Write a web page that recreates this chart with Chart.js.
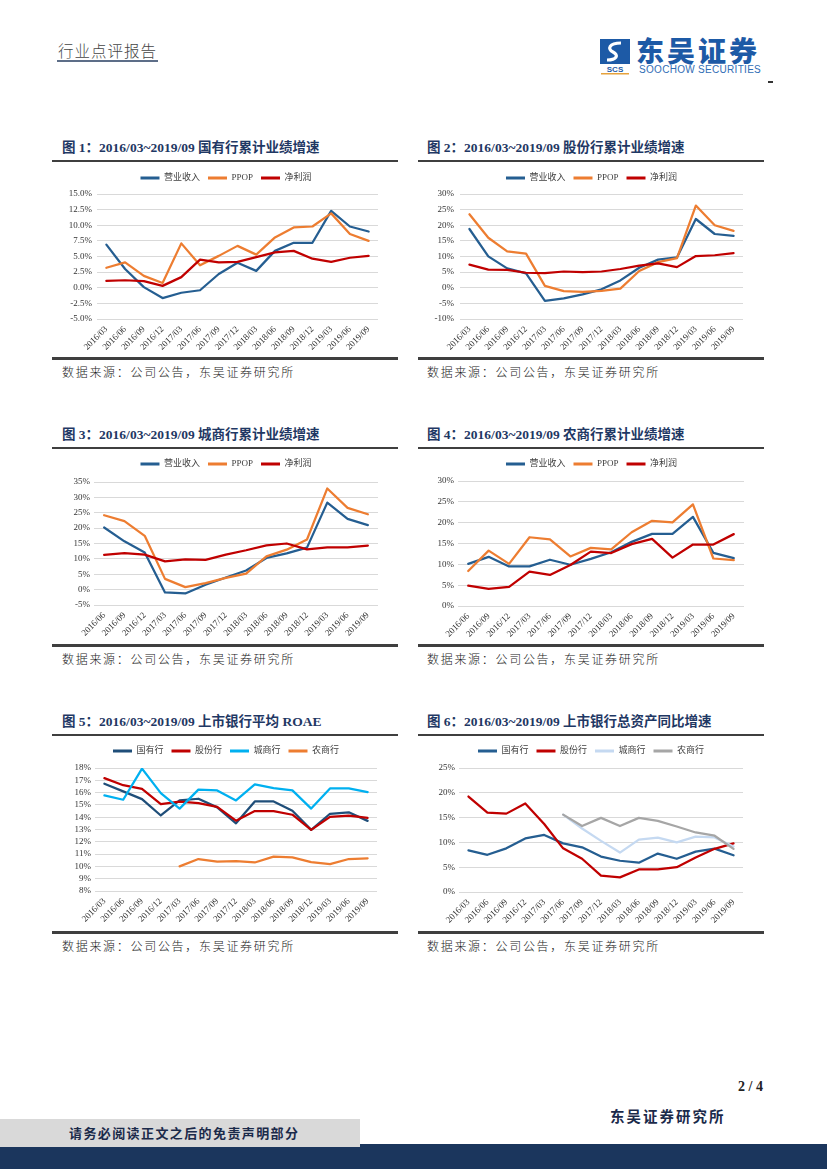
<!DOCTYPE html>
<html><head><meta charset="utf-8">
<script src="https://cdn.jsdelivr.net/npm/chart.js@4.4.1/dist/chart.umd.min.js"></script>
<style>
html,body{margin:0;padding:0;}
body{width:827px;height:1169px;position:relative;background:#fff;overflow:hidden;font-family:"Liberation Serif","Noto Sans CJK SC",serif;}
.abs{position:absolute;}
.title{font-weight:bold;font-size:13.5px;color:#1f3864;white-space:nowrap;line-height:16px;}
.rule{height:2px;background:#3f3f3f;}
.rule2{height:2.5px;background:#3f3f3f;}
.src{font-family:"Noto Sans CJK SC";font-weight:300;font-size:12px;color:#222;letter-spacing:1.7px;white-space:nowrap;line-height:16px;}
canvas{position:absolute;}
</style>
</head>
<body>
<!-- header -->
<div class="abs" style="left:58px;top:40px;font-family:'Noto Sans CJK SC';font-weight:300;font-size:15.5px;color:#444;letter-spacing:1px;line-height:20px;">行业点评报告</div>
<div class="abs" style="left:57px;top:60px;width:101px;height:2px;background:#5d6e88;"></div>
<svg class="abs" style="left:599px;top:39px;" width="32" height="36" viewBox="0 0 32 36">
  <rect x="1" y="0" width="30" height="25" fill="#1d5aa6"/>
  <path d="M22 4 C10 4 8 10 14 13 C20 16 18 21 8 21" stroke="#fff" stroke-width="3.2" fill="none"/>
  <text x="16" y="33" text-anchor="middle" font-family="Liberation Sans" font-weight="bold" font-size="8" fill="#1d5aa6">SCS</text>
  <rect x="2" y="34" width="28" height="1.5" fill="#e6a23c"/>
</svg>
<div class="abs" style="left:636px;top:32px;font-family:'Noto Sans CJK SC';font-weight:900;font-size:28px;color:#1d5aa6;letter-spacing:3px;line-height:36px;">东吴证券</div>
<div class="abs" style="left:639px;top:64px;font-family:'Liberation Sans';font-size:10px;color:#2f6db5;line-height:12px;letter-spacing:0.3px;">SOOCHOW SECURITIES</div>
<div class="abs" style="left:768px;top:81px;width:5px;height:1.5px;background:#333;"></div>

<!-- row 1 -->
<div class="abs title" style="left:62px;top:140px;">图 1：2016/03~2019/09 国有行累计业绩增速</div>
<div class="abs title" style="left:427px;top:140px;">图 2：2016/03~2019/09 股份行累计业绩增速</div>
<div class="abs rule" style="left:52px;top:160px;width:346px;"></div>
<div class="abs rule" style="left:418px;top:160px;width:346px;"></div>
<div class="abs rule2" style="left:52px;top:357px;width:346px;"></div>
<div class="abs rule2" style="left:418px;top:357px;width:346px;"></div>
<div class="abs src" style="left:62px;top:364px;">数据来源：公司公告，东吴证券研究所</div>
<div class="abs src" style="left:427px;top:364px;">数据来源：公司公告，东吴证券研究所</div>

<!-- row 2 -->
<div class="abs title" style="left:62px;top:427px;">图 3：2016/03~2019/09 城商行累计业绩增速</div>
<div class="abs title" style="left:427px;top:427px;">图 4：2016/03~2019/09 农商行累计业绩增速</div>
<div class="abs rule" style="left:52px;top:447px;width:346px;"></div>
<div class="abs rule" style="left:418px;top:447px;width:346px;"></div>
<div class="abs rule2" style="left:52px;top:644px;width:346px;"></div>
<div class="abs rule2" style="left:418px;top:644px;width:346px;"></div>
<div class="abs src" style="left:62px;top:651px;">数据来源：公司公告，东吴证券研究所</div>
<div class="abs src" style="left:427px;top:651px;">数据来源：公司公告，东吴证券研究所</div>

<!-- row 3 -->
<div class="abs title" style="left:62px;top:714px;">图 5：2016/03~2019/09 上市银行平均 ROAE</div>
<div class="abs title" style="left:427px;top:714px;">图 6：2016/03~2019/09 上市银行总资产同比增速</div>
<div class="abs rule" style="left:52px;top:734px;width:346px;"></div>
<div class="abs rule" style="left:418px;top:734px;width:346px;"></div>
<div class="abs rule2" style="left:52px;top:931px;width:346px;"></div>
<div class="abs rule2" style="left:418px;top:931px;width:346px;"></div>
<div class="abs src" style="left:62px;top:938px;">数据来源：公司公告，东吴证券研究所</div>
<div class="abs src" style="left:427px;top:938px;">数据来源：公司公告，东吴证券研究所</div>

<!-- footer -->
<div class="abs" style="left:720px;top:1078px;width:43px;text-align:right;font-weight:bold;font-size:14px;color:#222;line-height:18px;">2 / 4</div>
<div class="abs" style="left:610px;top:1106px;font-family:'Noto Sans CJK SC';font-weight:bold;font-size:14.5px;color:#1b2a4a;letter-spacing:2px;line-height:20px;">东吴证券研究所</div>
<div class="abs" style="left:0;top:1144px;width:827px;height:25px;background:#1b365d;"></div>
<div class="abs" style="left:0;top:1119px;width:360px;height:28px;background:#d9d9d9;z-index:2;"></div>
<div class="abs" style="left:69px;top:1123px;z-index:3;font-family:'Noto Sans CJK SC';font-weight:bold;font-size:13px;color:#1b2a4a;letter-spacing:1.4px;line-height:20px;">请务必阅读正文之后的免责声明部分</div>

<script>
// ---------- categories ----------
const cats15 = ['2016/03','2016/06','2016/09','2016/12','2017/03','2017/06','2017/09','2017/12','2018/03','2018/06','2018/09','2018/12','2019/03','2019/06','2019/09'];
const cats14 = ['2016/06','2016/09','2016/12','2017/03','2017/06','2017/09','2017/12','2018/03','2018/06','2018/09','2018/12','2019/03','2019/06','2019/09'];

// ---------- series names ----------
const perfNames = ['营业收入','PPOP','净利润'];
const bankNames = ['国有行','股份行','城商行','农商行'];

// ---------- 图1 国有行 ----------
const c1Rev  = [6.9,3.0,0.1,-1.65,-0.8,-0.4,2.2,4.0,2.7,5.9,7.2,7.2,12.3,9.8,9.0];
const c1Ppop = [3.2,4.05,1.9,0.75,7.1,3.6,5.1,6.7,5.3,8.05,9.65,9.8,11.9,8.6,7.5];
const c1Np   = [1.1,1.2,1.05,0.3,1.7,4.5,4.05,4.15,4.9,5.65,5.9,4.65,4.15,4.8,5.1];

// ---------- 图2 股份行 ----------
const c2Rev  = [18.8,10.05,6.2,4.6,-4.2,-3.4,-2.1,-0.5,2.35,6.4,9.0,9.7,22.0,17.2,16.6];
const c2Ppop = [23.5,16.0,11.65,10.9,0.6,-1.1,-1.3,-1.0,-0.3,5.35,8.2,9.5,26.3,20.0,18.2];
const c2Np   = [7.4,5.8,5.7,4.8,4.7,5.2,5.0,5.2,6.0,7.05,7.8,6.6,10.15,10.4,11.1];

// ---------- 图3 城商行 ----------
const c3Rev  = [20.2,15.7,12.1,-0.9,-1.25,1.6,3.95,6.2,10.3,11.8,13.65,28.3,23.0,21.0];
const c3Ppop = [24.2,22.3,17.5,3.5,0.8,2.1,3.8,5.2,10.8,13.0,16.3,32.9,26.6,24.5];
const c3Np   = [11.3,11.9,11.4,9.2,9.8,9.7,11.4,12.8,14.4,15.0,13.1,13.75,13.75,14.3];

// ---------- 图4 农商行 ----------
const c4Rev  = [10.1,11.8,9.5,9.5,11.1,9.9,11.3,12.9,15.4,17.3,17.3,21.4,12.75,11.5];
const c4Ppop = [8.4,13.3,10.1,16.5,16.0,11.9,13.95,13.6,17.7,20.45,20.05,24.4,11.4,11.0];
const c4Np   = [4.9,4.1,4.6,8.25,7.45,9.85,13.05,12.7,14.85,16.1,11.6,14.75,14.75,17.25];

// ---------- 图5 ROAE ----------
const c5State = [16.72,16.1,15.47,14.14,15.36,15.5,14.8,13.5,15.28,15.28,14.52,12.97,14.28,14.4,13.7];
const c5Joint = [17.18,16.6,16.3,15.07,15.27,15.15,14.84,13.72,14.5,14.5,14.2,12.97,14.03,14.13,13.95];
const c5City  = [15.77,15.42,17.95,15.96,14.7,16.24,16.18,15.36,16.67,16.37,16.18,14.7,16.34,16.34,16.04];
const c5Rural = [null,null,null,null,10.0,10.6,10.38,10.43,10.32,10.8,10.73,10.35,10.18,10.6,10.65];

// ---------- 图6 总资产同比 ----------
const c6State = [8.4,7.5,8.8,10.8,11.5,9.8,9.0,7.15,6.3,5.9,7.75,6.7,8.15,8.75,7.4];
const c6Joint = [19.25,16.0,15.8,17.85,13.7,8.8,6.7,3.3,2.95,4.55,4.55,5.0,6.95,8.7,9.8];
const c6City  = [null,null,null,null,null,15.6,12.8,10.3,7.95,10.55,10.95,10.0,11.15,11.0,9.15];
const c6Rural = [null,null,null,null,null,15.6,13.3,14.95,13.3,14.95,14.35,13.2,12.0,11.35,8.7];

// ---------- y axes ----------
const c1Y = {min:-5, max:15, step:2.5, dec:1};
const c2Y = {min:-10, max:30, step:5, dec:0};
const c3Y = {min:-5, max:35, step:5, dec:0};
const c4Y = {min:0, max:30, step:5, dec:0};
const c5Y = {min:8, max:18, step:1, dec:0};
const c6Y = {min:0, max:25, step:5, dec:0};

const perfColors = ['#255E91','#ED7D31','#C00000'];
const c5Colors = ['#1F4E79','#C00000','#00B0F0','#ED7D31'];
const c6Colors = ['#255E91','#C00000','#C5D9F1','#A6A6A6'];

const FONT = '"Liberation Serif", "Noto Sans CJK SC", serif';
Chart.defaults.font.family = FONT;
Chart.defaults.color = '#404040';

function makeChart(g, labels, names, series, colors, yc){
  const cv = document.createElement('canvas');
  cv.width = g.w; cv.height = g.h;
  cv.style.left = g.x+'px'; cv.style.top = g.y+'px';
  cv.style.width = g.w+'px'; cv.style.height = g.h+'px';
  document.body.appendChild(cv);
  const legPad = 8, legFont = 9;
  const R = g.x + g.w - g.pr;
  const T = (g.ly - g.y) - legPad - legFont/2;
  const legH = (g.pt - g.y) - T;
  const yW = g.pl - g.x;
  const xH = g.y + g.h - g.pb;
  const legShift = g.lx - (g.x + g.pr)/2;
  new Chart(cv, {
    type:'line',
    data:{
      labels: labels,
      datasets: series.map((d,i)=>({
        label: names[i], data: d,
        borderColor: colors[i], backgroundColor: colors[i],
        borderWidth: 2.25, pointRadius: 0, pointHoverRadius: 0,
        tension: 0, spanGaps: false, order: -i,
        borderJoinStyle:'round', borderCapStyle:'round'
      }))
    },
    options:{
      responsive:false, animation:false,
      layout:{padding:{left:0, right:R, top:T, bottom:0}},
      plugins:{
        tooltip:{enabled:false},
        legend:{
          position:'top', align:'center',
          labels:{
            boxWidth:19, boxHeight:3, padding:legPad, color:'#404040',
            font:{size:legFont, family:FONT},
            sort:(a,b)=>a.datasetIndex-b.datasetIndex,
            generateLabels:(chart)=>Chart.defaults.plugins.legend.labels.generateLabels(chart).map(l=>Object.assign(l,{fillStyle:l.strokeStyle, lineWidth:0}))
          }
        }
      },
      scales:{
        x:{
          offset:true,
          grid:{display:false, drawTicks:false},
          border:{display:false},
          ticks:{autoSkip:false, minRotation:45, maxRotation:45, padding:5, font:{size:9}, color:'#333'},
          afterFit:(s)=>{ s.height = xH; }
        },
        y:{
          min:yc.min, max:yc.max,
          grid:{color:'#D9D9D9', lineWidth:1, drawTicks:false},
          border:{display:false},
          ticks:{stepSize:yc.step, autoSkip:false, padding:g.tp, font:{size:9}, color:'#333',
                 callback:(v)=>Number(v).toFixed(yc.dec)+'%'},
          afterFit:(s)=>{ s.width = yW; }
        }
      }
    },
    plugins:[{
      id:'legendHeight',
      beforeLayout(chart){
        const lg = chart.legend;
        if (lg && !lg._hPatched){
          const orig = lg.fit;
          lg.fit = function(){ orig.call(this); this.height = legH; };
          lg._hPatched = true;
        }
      },
      afterLayout(chart){
        const lg = chart.legend;
        if (lg){ lg.left += legShift; lg.right += legShift; }
      }
    }]
  });
}

makeChart({x:55,y:165,w:330,h:190,pl:97,pr:378,pt:194,pb:319,lx:226,ly:178,tp:5},
  cats15, perfNames, [c1Rev,c1Ppop,c1Np], perfColors, c1Y);
makeChart({x:420,y:165,w:345,h:190,pl:460,pr:743,pt:194,pb:319,lx:591.5,ly:178,tp:6},
  cats15, perfNames, [c2Rev,c2Ppop,c2Np], perfColors, c2Y);
makeChart({x:55,y:450,w:330,h:192,pl:94,pr:378,pt:482,pb:605,lx:226,ly:464,tp:4},
  cats14, perfNames, [c3Rev,c3Ppop,c3Np], perfColors, c3Y);
makeChart({x:420,y:450,w:345,h:192,pl:458,pr:744,pt:481,pb:606,lx:591.5,ly:464,tp:4},
  cats14, perfNames, [c4Rev,c4Ppop,c4Np], perfColors, c4Y);
makeChart({x:55,y:737,w:330,h:193,pl:95,pr:377,pt:768,pb:891,lx:226,ly:751,tp:4},
  cats15, bankNames, [c5State,c5Joint,c5City,c5Rural], c5Colors, c5Y);
makeChart({x:420,y:737,w:345,h:193,pl:459,pr:743,pt:768,pb:892,lx:591,ly:751,tp:4},
  cats15, bankNames, [c6State,c6Joint,c6City,c6Rural], c6Colors, c6Y);
</script>
</body></html>
